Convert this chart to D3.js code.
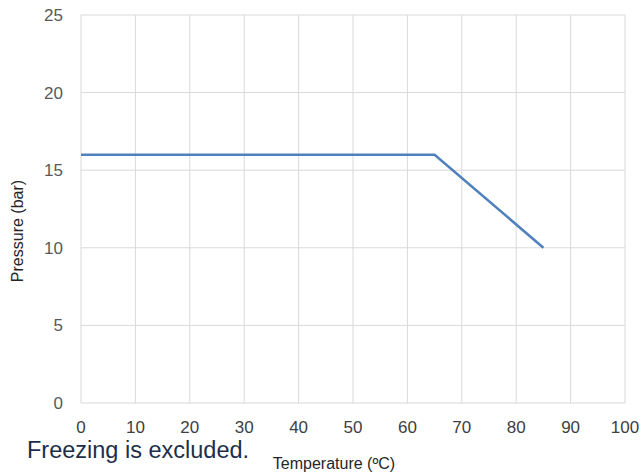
<!DOCTYPE html>
<html>
<head>
<meta charset="utf-8">
<script src="https://cdn.jsdelivr.net/npm/d3@7"></script>
<style>
  body { margin: 0; background: #fff; }
  text { font-family: "Liberation Sans", Arial, sans-serif; }
</style>
</head>
<body>
<script>
// Pressure / temperature derating curve
const temps = [0, 65, 85];
const pressures = [16, 16, 10];
const xTicks = [0, 10, 20, 30, 40, 50, 60, 70, 80, 90, 100];
const yTicks = [0, 5, 10, 15, 20, 25];

const width = 643, height = 475;
const margin = {top: 15, right: 18, bottom: 72, left: 81};

let svg = d3.select("body").append("svg")
    .attr("width", width)
    .attr("height", height);

let x = d3.scaleLinear().domain([0, 100]).range([margin.left, width - margin.right]);
let y = d3.scaleLinear().domain([0, 25]).range([height - margin.bottom, margin.top]);

// grid
svg.append("g").selectAll("line.v")
    .data(xTicks).enter().append("line")
    .attr("x1", d => x(d)).attr("x2", d => x(d))
    .attr("y1", y(0)).attr("y2", y(25))
    .attr("stroke", "#d9d9d9").attr("stroke-width", 1);

svg.append("g").selectAll("line.h")
    .data(yTicks).enter().append("line")
    .attr("x1", x(0)).attr("x2", x(100))
    .attr("y1", d => y(d)).attr("y2", d => y(d))
    .attr("stroke", "#d9d9d9").attr("stroke-width", 1);

// tick labels
svg.append("g").selectAll("text")
    .data(yTicks).enter().append("text")
    .attr("x", x(0) - 18)
    .attr("y", d => y(d))
    .attr("dy", "0.35em")
    .attr("text-anchor", "end")
    .attr("font-size", 17)
    .attr("fill", "#595959")
    .text(d => d);

svg.append("g").selectAll("text")
    .data(xTicks).enter().append("text")
    .attr("x", d => x(d))
    .attr("y", y(0) + 30)
    .attr("text-anchor", "middle")
    .attr("font-size", 17)
    .attr("fill", "#404040")
    .text(d => d);

// axis titles
svg.append("text")
    .attr("x", 334).attr("y", 469)
    .attr("text-anchor", "middle")
    .attr("font-size", 16)
    .attr("fill", "#262626")
    .text("Temperature (ºC)");

svg.append("text")
    .attr("transform", "translate(23," + 231 + ") rotate(-90)")
    .attr("text-anchor", "middle")
    .attr("font-size", 16)
    .attr("fill", "#262626")
    .text("Pressure (bar)");

// note
svg.append("text")
    .attr("x", 27).attr("y", 458)
    .attr("font-size", 23.5)
    .attr("fill", "#1c2f4a")
    .text("Freezing is excluded.");

// line
let line = d3.line()
    .x((d, i) => x(temps[i]))
    .y(d => y(d));

svg.append("path")
    .datum(pressures)
    .attr("d", line)
    .attr("fill", "none")
    .attr("stroke", "#4f81bd")
    .attr("stroke-width", 2.5);
</script>
</body>
</html>
